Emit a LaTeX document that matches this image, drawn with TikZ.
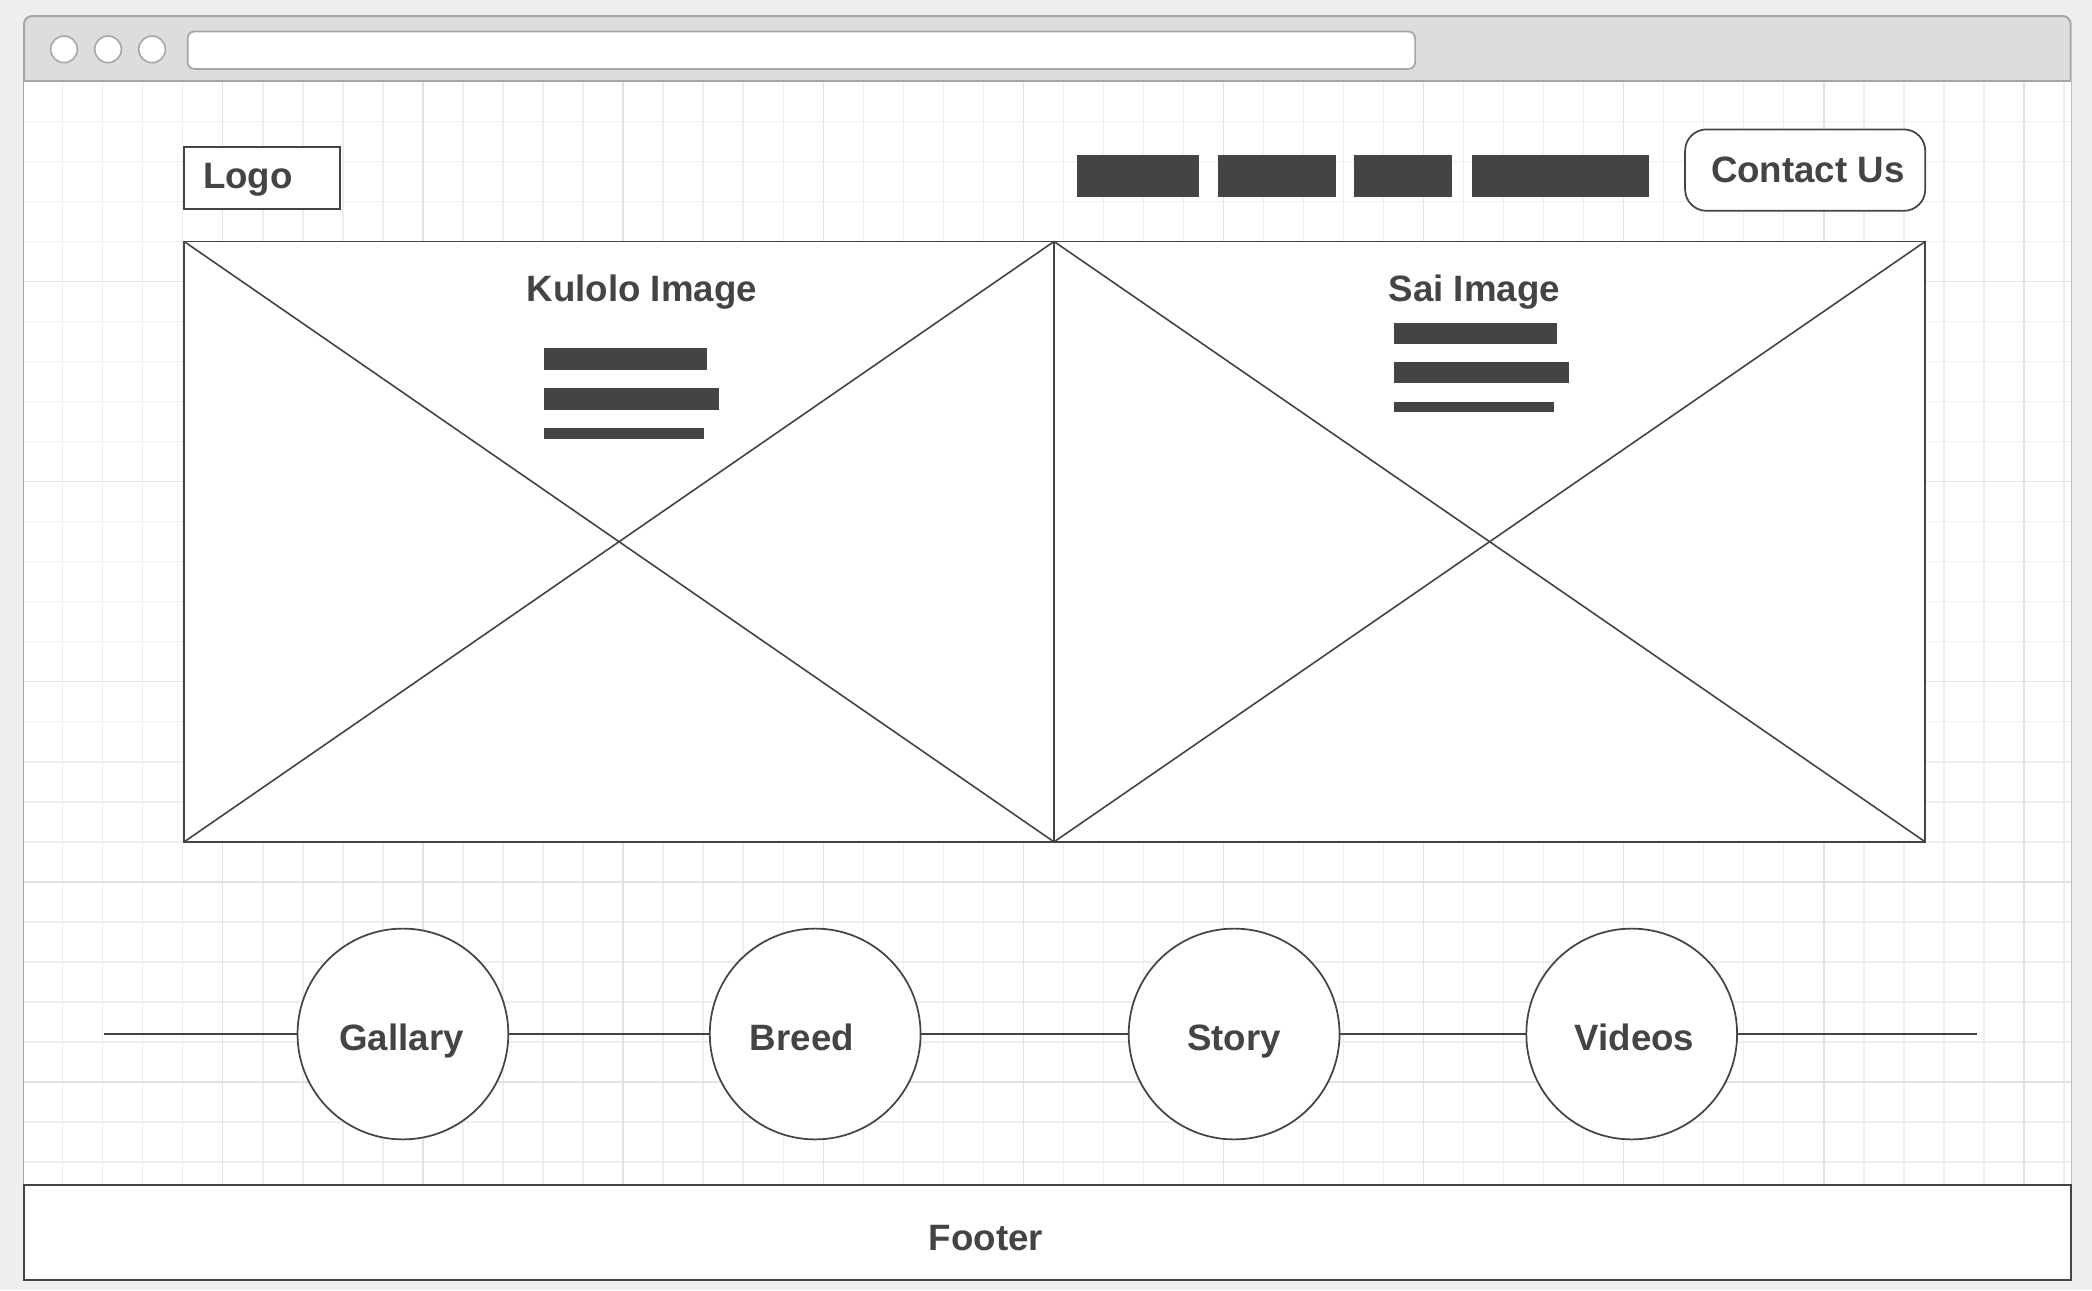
\documentclass[tikz,border=0pt]{standalone}
\usepackage{fontspec}
\setmainfont{Liberation Sans}
\definecolor{ink}{HTML}{444444}
\definecolor{outerbg}{HTML}{EEEEEE}
\definecolor{barbg}{HTML}{DDDDDD}
\definecolor{frame}{HTML}{A6A6A6}
\definecolor{gridminor}{HTML}{EEEEEE}
\definecolor{gridmajor}{HTML}{E2E2E2}
\tikzset{
  box/.style={draw=ink, line width=1.5pt, fill=white, inner sep=0pt, outer sep=0pt},
  bar/.style={fill=ink, draw=none, inner sep=0pt, outer sep=0pt, anchor=north west},
  lbl/.style={text=ink, font=\fontsize{27.5}{32}\selectfont\bfseries, inner sep=0pt, anchor=base},
  tab/.style={circle, draw=ink, line width=1.3pt, fill=white, minimum size=158pt, inner sep=0pt, outer sep=0pt},
  link/.style={draw=ink, line width=1.5pt},
  cross/.style={draw=ink, line width=1.2pt},
  winbtn/.style={circle, draw=frame, line width=1.2pt, fill=white, minimum size=20pt, inner sep=0pt}
}
\begin{document}
\begin{tikzpicture}[x=1pt,y=-1pt]
\useasboundingbox (0,0) rectangle (1568,967);
\fill[outerbg] (0,0) rectangle (1568,967);
% window
\draw[frame, line width=1.5pt, fill=barbg, rounded corners=6pt] (18,960) -- (18,12) -- (1552,12) -- (1552,960);
\fill[white] (18,61) rectangle (1552,888);
% grid
\foreach \x in {47,77,...,1547} \draw[gridminor, line width=1pt] (\x,61) -- (\x,888);
\foreach \y in {91,121,...,871} \draw[gridminor, line width=1pt] (18,\y) -- (1552,\y);
\foreach \x in {167,317,...,1547} \draw[gridmajor, line width=1pt] (\x,61) -- (\x,888);
\foreach \y in {211,361,...,811} \draw[gridmajor, line width=1pt] (18,\y) -- (1552,\y);
\draw[frame, line width=1.5pt] (18,61) -- (1552,61);
% title bar controls
\node[winbtn] (b1) at (48,37) {};
\node[winbtn] (b2) at (81,37) {};
\node[winbtn] (b3) at (114,37) {};
\node[draw=frame, line width=1.3pt, fill=white, rounded corners=5pt, minimum width=920pt, minimum height=28pt, inner sep=0pt, anchor=north west] (addr) at (140,23) {};
% header
\node[box, minimum width=117pt, minimum height=47pt, anchor=north west] (logo) at (138,110) {};
\node[lbl, anchor=base west] (logot) at (152,141) {Logo};
\node[bar, minimum width=92pt, minimum height=32pt] (n1) at (807,116) {};
\node[bar, minimum width=88pt, minimum height=32pt] (n2) at (913,116) {};
\node[bar, minimum width=73pt, minimum height=32pt] (n3) at (1015,116) {};
\node[bar, minimum width=133pt, minimum height=32pt] (n4) at (1103,116) {};
\node[box, line width=1.3pt, rounded corners=16pt, minimum width=180pt, minimum height=61pt, anchor=north west] (contact) at (1263,97) {};
\node[lbl] (contactt) at (1355,137) {Contact Us};
% image boxes
\node[box, line width=1.3pt, minimum width=652pt, minimum height=450pt, anchor=north west] (imgL) at (138,181) {};
\node[box, line width=1.3pt, minimum width=653pt, minimum height=450pt, anchor=north west] (imgR) at (790,181) {};
\draw[cross] (imgL.north west) -- (imgL.south east);
\draw[cross] (imgL.south west) -- (imgL.north east);
\draw[cross] (imgR.north west) -- (imgR.south east);
\draw[cross] (imgR.south west) -- (imgR.north east);
\node[lbl] (kt) at (481,226) {Kulolo Image};
\node[bar, minimum width=122pt, minimum height=16pt] (k1) at (408,261) {};
\node[bar, minimum width=131pt, minimum height=16pt] (k2) at (408,291) {};
\node[bar, minimum width=120pt, minimum height=8pt] (k3) at (408,321) {};
\node[lbl] (st) at (1105,226) {Sai Image};
\node[bar, minimum width=122pt, minimum height=16pt] (s1) at (1045,242) {};
\node[bar, minimum width=131pt, minimum height=16pt] (s2) at (1045,271) {};
\node[bar, minimum width=120pt, minimum height=8pt] (s3) at (1045,301) {};
% tabs
\coordinate (tl) at (78,775);
\coordinate (tr) at (1482,775);
\node[tab] (gal) at (302,775) {};
\node[tab] (bre) at (611,775) {};
\node[tab] (sto) at (925,775) {};
\node[tab] (vid) at (1223,775) {};
\node[lbl] (galt) at (301,787) {Gallary};
\node[lbl] (bret) at (601,787) {Breed};
\node[lbl] (stot) at (925,787) {Story};
\node[lbl] (vidt) at (1225,787) {Videos};
\draw[link] (tl) -- (gal.west);
\draw[link] (gal.east) -- (bre.west);
\draw[link] (bre.east) -- (sto.west);
\draw[link] (sto.east) -- (vid.west);
\draw[link] (vid.east) -- (tr);
% footer
\node[box, minimum width=1534pt, minimum height=71pt, anchor=north west] (footer) at (18,888) {};
\node[lbl] (footert) at (739,937) {Footer};
\end{tikzpicture}
\end{document}
